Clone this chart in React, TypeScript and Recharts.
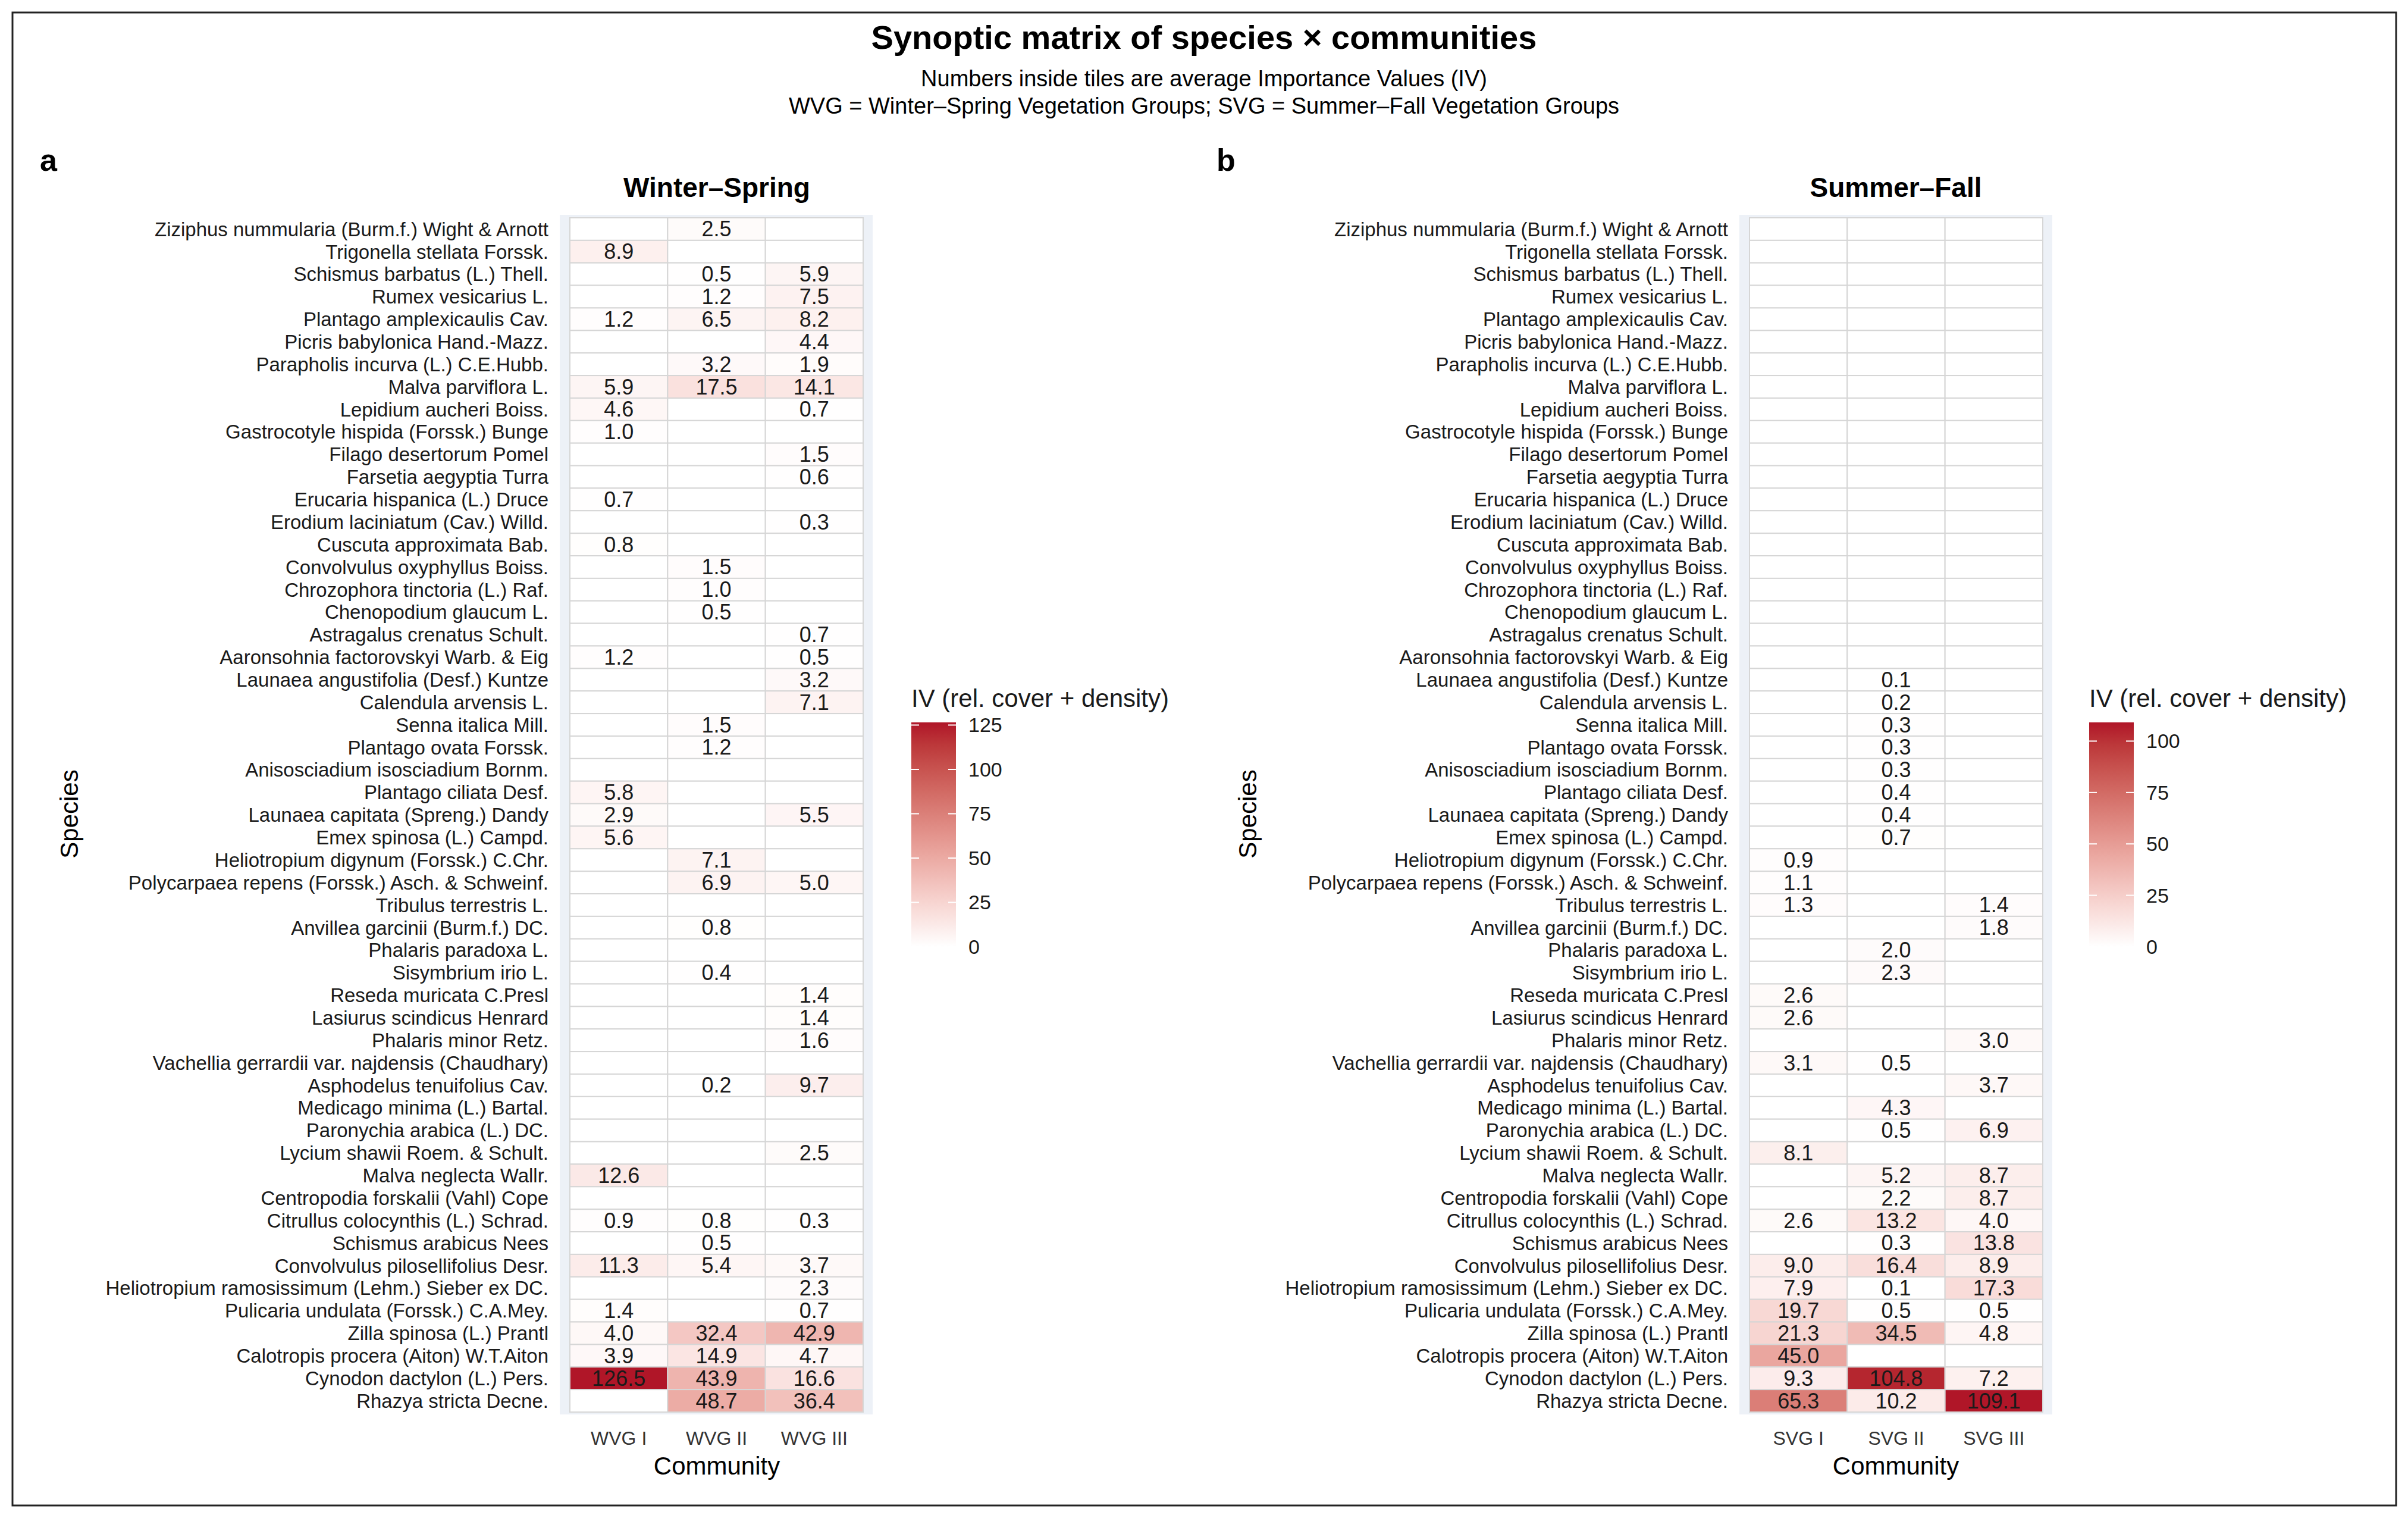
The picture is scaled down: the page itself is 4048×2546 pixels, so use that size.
import React from "react"
import { ScatterChart, Scatter, XAxis, YAxis, CartesianGrid } from "recharts"

const species = [
  "Ziziphus nummularia (Burm.f.) Wight & Arnott",
  "Trigonella stellata Forssk.",
  "Schismus barbatus (L.) Thell.",
  "Rumex vesicarius L.",
  "Plantago amplexicaulis Cav.",
  "Picris babylonica Hand.-Mazz.",
  "Parapholis incurva (L.) C.E.Hubb.",
  "Malva parviflora L.",
  "Lepidium aucheri Boiss.",
  "Gastrocotyle hispida (Forssk.) Bunge",
  "Filago desertorum Pomel",
  "Farsetia aegyptia Turra",
  "Erucaria hispanica (L.) Druce",
  "Erodium laciniatum (Cav.) Willd.",
  "Cuscuta approximata Bab.",
  "Convolvulus oxyphyllus Boiss.",
  "Chrozophora tinctoria (L.) Raf.",
  "Chenopodium glaucum L.",
  "Astragalus crenatus Schult.",
  "Aaronsohnia factorovskyi Warb. & Eig",
  "Launaea angustifolia (Desf.) Kuntze",
  "Calendula arvensis L.",
  "Senna italica Mill.",
  "Plantago ovata Forssk.",
  "Anisosciadium isosciadium Bornm.",
  "Plantago ciliata Desf.",
  "Launaea capitata (Spreng.) Dandy",
  "Emex spinosa (L.) Campd.",
  "Heliotropium digynum (Forssk.) C.Chr.",
  "Polycarpaea repens (Forssk.) Asch. & Schweinf.",
  "Tribulus terrestris L.",
  "Anvillea garcinii (Burm.f.) DC.",
  "Phalaris paradoxa L.",
  "Sisymbrium irio L.",
  "Reseda muricata C.Presl",
  "Lasiurus scindicus Henrard",
  "Phalaris minor Retz.",
  "Vachellia gerrardii var. najdensis (Chaudhary)",
  "Asphodelus tenuifolius Cav.",
  "Medicago minima (L.) Bartal.",
  "Paronychia arabica (L.) DC.",
  "Lycium shawii Roem. & Schult.",
  "Malva neglecta Wallr.",
  "Centropodia forskalii (Vahl) Cope",
  "Citrullus colocynthis (L.) Schrad.",
  "Schismus arabicus Nees",
  "Convolvulus pilosellifolius Desr.",
  "Heliotropium ramosissimum (Lehm.) Sieber ex DC.",
  "Pulicaria undulata (Forssk.) C.A.Mey.",
  "Zilla spinosa (L.) Prantl",
  "Calotropis procera (Aiton) W.T.Aiton",
  "Cynodon dactylon (L.) Pers.",
  "Rhazya stricta Decne.",
]

// Winter–Spring average IV (null = species absent)
const wvgI = [null, 8.9, null, null, 1.2, null, null, 5.9, 4.6, 1.0, null, null, 0.7, null, 0.8, null, null, null, null, 1.2,
  null, null, null, null, null, 5.8, 2.9, 5.6, null, null, null, null, null, null, null, null, null, null, null, null,
  null, null, 12.6, null, 0.9, null, 11.3, null, 1.4, 4.0, 3.9, 126.5, null]
const wvgII = [2.5, null, 0.5, 1.2, 6.5, null, 3.2, 17.5, null, null, null, null, null, null, null, 1.5, 1.0, 0.5, null, null,
  null, null, 1.5, 1.2, null, null, null, null, 7.1, 6.9, null, 0.8, null, 0.4, null, null, null, null, 0.2, null,
  null, null, null, null, 0.8, 0.5, 5.4, null, null, 32.4, 14.9, 43.9, 48.7]
const wvgIII = [null, null, 5.9, 7.5, 8.2, 4.4, 1.9, 14.1, 0.7, null, 1.5, 0.6, null, 0.3, null, null, null, null, 0.7, 0.5,
  3.2, 7.1, null, null, null, null, 5.5, null, null, 5.0, null, null, null, null, 1.4, 1.4, 1.6, null, 9.7, null,
  null, 2.5, null, null, 0.3, null, 3.7, 2.3, 0.7, 42.9, 4.7, 16.6, 36.4]

// Summer–Fall average IV
const svgI = [null, null, null, null, null, null, null, null, null, null, null, null, null, null, null, null, null, null, null, null,
  null, null, null, null, null, null, null, null, 0.9, 1.1, 1.3, null, null, null, 2.6, 2.6, null, 3.1, null, null,
  null, 8.1, null, null, 2.6, null, 9.0, 7.9, 19.7, 21.3, 45.0, 9.3, 65.3]
const svgII = [null, null, null, null, null, null, null, null, null, null, null, null, null, null, null, null, null, null, null, null,
  0.1, 0.2, 0.3, 0.3, 0.3, 0.4, 0.4, 0.7, null, null, null, null, 2.0, 2.3, null, null, null, 0.5, null, 4.3,
  0.5, null, 5.2, 2.2, 13.2, 0.3, 16.4, 0.1, 0.5, 34.5, null, 104.8, 10.2]
const svgIII = [null, null, null, null, null, null, null, null, null, null, null, null, null, null, null, null, null, null, null, null,
  null, null, null, null, null, null, null, null, null, null, 1.4, 1.8, null, null, null, null, 3.0, null, 3.7, null,
  6.9, null, 8.7, 8.7, 4.0, 13.8, 8.9, 17.3, 0.5, 4.8, null, 7.2, 109.1]

const winterGroups = ["WVG I", "WVG II", "WVG III"]
const summerGroups = ["SVG I", "SVG II", "SVG III"]
const winterTicks = [0, 25, 50, 75, 100, 125]
const summerTicks = [0, 25, 50, 75, 100]

const FONT = '"Liberation Sans", Arial, Helvetica, sans-serif'
const HIGH = [176, 22, 40]

const CHART_W = 1480
const CHART_H = 2240
const CHART_TOP = 300
const MARGIN = { top: 61, right: 13, left: 0, bottom: 63 }
const Y_W = 941
const X_H = 100
const PAD_X = { left: 17, right: 16 }
const PAD_Y = { top: 5, bottom: 4 }
const PLOT_W = CHART_W - MARGIN.left - MARGIN.right - Y_W
const PLOT_H = CHART_H - MARGIN.top - MARGIN.bottom - X_H
const TILE_W = (PLOT_W - PAD_X.left - PAD_X.right) / 3
const TILE_H = (PLOT_H - PAD_Y.top - PAD_Y.bottom) / species.length

// white -> dark red, interpolated in Lab like ggplot's scale_fill_gradient
const toLin = (c: number) => { c /= 255; return c <= 0.04045 ? c / 12.92 : Math.pow((c + 0.055) / 1.055, 2.4) }
const fromLin = (c: number) => 255 * (c <= 0.0031308 ? 12.92 * c : 1.055 * Math.pow(c, 1 / 2.4) - 0.055)
const fLab = (t: number) => (t > 0.008856 ? Math.cbrt(t) : 7.787 * t + 16 / 116)
const fInv = (t: number) => (t > 0.206893 ? t * t * t : (t - 16 / 116) / 7.787)
const WP = [0.95047, 1, 1.08883]
const rgbToLab = ([r, g, b]: number[]) => {
  const R = toLin(r), G = toLin(g), B = toLin(b)
  const X = (0.4124 * R + 0.3576 * G + 0.1805 * B) / WP[0]
  const Y = (0.2126 * R + 0.7152 * G + 0.0722 * B) / WP[1]
  const Z = (0.0193 * R + 0.1192 * G + 0.9505 * B) / WP[2]
  return [116 * fLab(Y) - 16, 500 * (fLab(X) - fLab(Y)), 200 * (fLab(Y) - fLab(Z))]
}
const labToRgb = ([L, a, b]: number[]) => {
  const fy = (L + 16) / 116
  const X = fInv(fy + a / 500) * WP[0], Y = fInv(fy) * WP[1], Z = fInv(fy - b / 200) * WP[2]
  const R = 3.2406 * X - 1.5372 * Y - 0.4986 * Z
  const G = -0.9689 * X + 1.8758 * Y + 0.0415 * Z
  const B = 0.0557 * X - 0.204 * Y + 1.057 * Z
  return [R, G, B].map((c) => Math.max(0, Math.min(255, Math.round(fromLin(c)))))
}
const LOW_LAB = rgbToLab([255, 255, 255])
const HIGH_LAB = rgbToLab(HIGH)
const rampColor = (t: number) => {
  const c = labToRgb(LOW_LAB.map((l, i) => l + (HIGH_LAB[i] - l) * t))
  return `rgb(${c[0]},${c[1]},${c[2]})`
}
const fillFor = (v: number | null, max: number) => (v ? rampColor(Math.min(v / max, 1)) : "#ffffff")

const Tile = (props: any) => {
  const { cx, cy, payload, max } = props
  const v = payload.iv
  return (
    <g>
      <rect x={cx - TILE_W / 2} y={cy - TILE_H / 2} width={TILE_W} height={TILE_H} fill={fillFor(v, max)} stroke="#D6D6D6" strokeWidth={2} />
      {v ? (
        <text x={cx} y={cy} textAnchor="middle" dominantBaseline="central" fontSize={36} fill="#1a1a1a">
          {v.toFixed(1)}
        </text>
      ) : null}
    </g>
  )
}

const Panel = ({ groups, cols, max }: { groups: string[]; cols: (number | null)[][]; max: number }) => {
  const data = species.flatMap((s, i) => groups.map((g, j) => ({ species: s, group: g, iv: cols[j][i] })))
  return (
    <ScatterChart width={CHART_W} height={CHART_H} margin={MARGIN}>
      <CartesianGrid fill="#EDF1F7" stroke="none" horizontal={false} vertical={false} />
      <XAxis
        type="category"
        dataKey="group"
        allowDuplicatedCategory={false}
        padding={PAD_X}
        height={X_H}
        axisLine={false}
        tickLine={false}
        tickSize={6}
        tickMargin={22}
        interval={0}
        tick={{ fontSize: 32, fill: "#333" }}
      />
      <YAxis
        type="category"
        dataKey="species"
        allowDuplicatedCategory={false}
        padding={PAD_Y}
        width={Y_W}
        axisLine={false}
        tickLine={false}
        tickSize={6}
        tickMargin={13}
        interval={0}
        reversed
        tick={{ fontSize: 33, fill: "#1a1a1a" }}
      />
      <Scatter data={data} isAnimationActive={false} shape={(p: any) => <Tile {...p} max={max} />} />
    </ScatterChart>
  )
}

const gradientStops = Array.from({ length: 11 }, (_, i) => i / 10)

const ColorBar = ({ x, max, ticks, id }: { x: number; max: number; ticks: number[]; id: string }) => {
  const top = 1214
  const bottom = 1591
  const yOf = (v: number) => bottom - (v / max) * (bottom - top)
  const w = 75
  return (
    <g>
      <defs>
        <linearGradient id={id} x1="0" y1="1" x2="0" y2="0">
          {gradientStops.map((s) => (
            <stop key={s} offset={`${s * 100}%`} stopColor={rampColor(s)} />
          ))}
        </linearGradient>
      </defs>
      <text x={x} y={1173} dominantBaseline="central" fontSize={42} fill="#1a1a1a">
        IV (rel. cover + density)
      </text>
      <rect x={x} y={top} width={w} height={bottom - top} fill={`url(#${id})`} />
      {ticks.map((t) => (
        <g key={t}>
          <line x1={x} x2={x + 13} y1={yOf(t)} y2={yOf(t)} stroke="#fff" strokeWidth={2} />
          <line x1={x + w - 13} x2={x + w} y1={yOf(t)} y2={yOf(t)} stroke="#fff" strokeWidth={2} />
          <text x={x + 96} y={yOf(t)} dominantBaseline="central" fontSize={34} fill="#1a1a1a">
            {t}
          </text>
        </g>
      ))}
    </g>
  )
}

const App = () => {
  const winterMax = Math.max(...[wvgI, wvgII, wvgIII].flat().map((v) => v ?? 0))
  const summerMax = Math.max(...[svgI, svgII, svgIII].flat().map((v) => v ?? 0))
  return (
    <div style={{ position: "absolute", left: 0, top: 0, width: 4048, height: 2546, background: "#fff", fontFamily: FONT }}>
      <div style={{ position: "absolute", left: 0, top: CHART_TOP }}>
        <Panel groups={winterGroups} cols={[wvgI, wvgII, wvgIII]} max={winterMax} />
      </div>
      <div style={{ position: "absolute", left: 1983, top: CHART_TOP }}>
        <Panel groups={summerGroups} cols={[svgI, svgII, svgIII]} max={summerMax} />
      </div>
      <svg width={4048} height={2546} style={{ position: "absolute", left: 0, top: 0, pointerEvents: "none" }} fontFamily={FONT}>
        <rect x={21} y={21} width={4007} height={2509} fill="none" stroke="#222" strokeWidth={3} />
        <text x={2024} y={62} textAnchor="middle" dominantBaseline="central" fontSize={56} fontWeight="bold" fill="#000">
          Synoptic matrix of species × communities
        </text>
        <text x={2024} y={132} textAnchor="middle" dominantBaseline="central" fontSize={38} fill="#000">
          Numbers inside tiles are average Importance Values (IV)
        </text>
        <text x={2024} y={178} textAnchor="middle" dominantBaseline="central" fontSize={38} fill="#000">
          WVG = Winter–Spring Vegetation Groups; SVG = Summer–Fall Vegetation Groups
        </text>
        <text x={67} y={287} fontSize={52} fontWeight="bold" fill="#000">a</text>
        <text x={2045} y={287} fontSize={52} fontWeight="bold" fill="#000">b</text>
        <text x={1205} y={315} textAnchor="middle" dominantBaseline="central" fontSize={46} fontWeight="bold" fill="#000">
          Winter–Spring
        </text>
        <text x={3187} y={315} textAnchor="middle" dominantBaseline="central" fontSize={46} fontWeight="bold" fill="#000">
          Summer–Fall
        </text>
        <text x={116} y={1368} textAnchor="middle" dominantBaseline="central" fontSize={42} fill="#000" transform="rotate(-90 116 1368)">
          Species
        </text>
        <text x={2097} y={1368} textAnchor="middle" dominantBaseline="central" fontSize={42} fill="#000" transform="rotate(-90 2097 1368)">
          Species
        </text>
        <text x={1205} y={2478} textAnchor="middle" fontSize={42} fill="#000">Community</text>
        <text x={3187} y={2478} textAnchor="middle" fontSize={42} fill="#000">Community</text>
        <ColorBar x={1532} max={winterMax} ticks={winterTicks} id="gradW" />
        <ColorBar x={3512} max={summerMax} ticks={summerTicks} id="gradS" />
      </svg>
    </div>
  )
}

export default App
